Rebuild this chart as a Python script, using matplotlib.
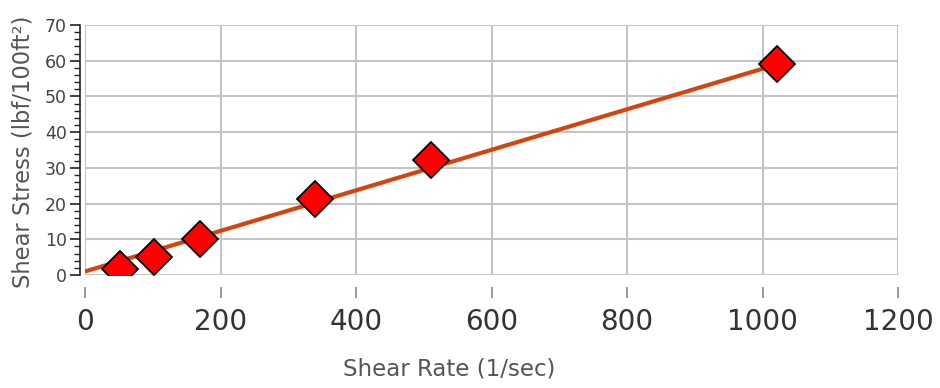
"""
Shear stress vs shear rate (rheology reading) - recreated chart.
"""

import matplotlib
matplotlib.use('Agg')
import matplotlib.pyplot as plt
from matplotlib.ticker import MultipleLocator

# data
shear_rate = [51, 102, 170, 340, 511, 1022]          # 1/sec
shear_stress = [1.7, 5.0, 10.1, 21.3, 32.1, 59.1]     # lbf/100ft2

# fitted line (end points)
fit_rate = [0, 1022]
fit_stress = [1.0, 59.0]

x_ticks = [0, 200, 400, 600, 800, 1000, 1200]
y_ticks = [0, 10, 20, 30, 40, 50, 60, 70]

W, H = 940, 388
fig = plt.figure(figsize=(W / 100, H / 100), dpi=100)
ax = fig.add_axes([85 / W, (H - 275) / H, (898 - 85) / W, (275 - 25) / H])

ax.plot(fit_rate, fit_stress, color='#d4450e', linewidth=3.0,
        solid_capstyle='butt', zorder=3)
ax.plot(shear_rate, shear_stress, linestyle='none', marker='D',
        markersize=18, markerfacecolor='#ff0000', markeredgecolor='black',
        markeredgewidth=1.3, zorder=4)

ax.set_xlim(0, 1200)
ax.set_ylim(0, 70)
ax.set_xticks(x_ticks)
ax.set_yticks(y_ticks)
ax.yaxis.set_minor_locator(MultipleLocator(2))

ax.grid(True, color='#c4c4c4', linewidth=1.5, zorder=0)
ax.set_axisbelow(True)

for s in ['top', 'right']:
    ax.spines[s].set_visible(False)
ax.spines['left'].set_position(('outward', 3.6))
ax.spines['left'].set_color('#222222')
ax.spines['left'].set_linewidth(1.2)
ax.spines['bottom'].set_position(('outward', 8.6))
ax.spines['bottom'].set_color('none')

ax.tick_params(axis='x', direction='out', length=8, width=1.2, color='#888888',
               labelsize=20, labelcolor='#333333', pad=7)
ax.tick_params(axis='y', which='major', direction='out', length=7.5, width=1.2,
               color='#222222', labelsize=12.5, labelcolor='#444444', pad=2)
ax.tick_params(axis='y', which='minor', direction='out', length=4.5, width=1.0,
               color='#222222')

fig.text(449 / W, 1 - 369 / H, 'Shear Rate (1/sec)', ha='center', va='center',
         fontsize=16.5, color='#555555')
fig.text(22.5 / W, 1 - 288 / H, 'Shear Stress (lbf/100ft²)', rotation=90,
         rotation_mode='anchor', ha='left', va='center',
         fontsize=16.3, color='#555555')

fig.savefig('out.png', dpi=100)
plt.close(fig)
